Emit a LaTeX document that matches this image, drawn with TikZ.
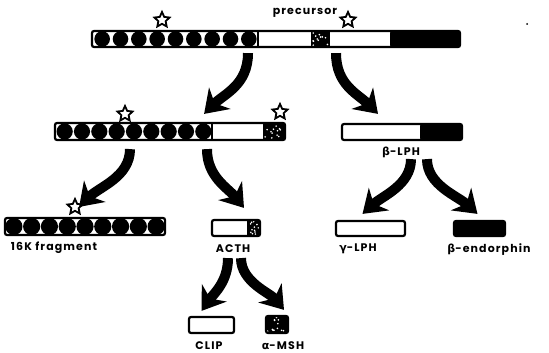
\documentclass[tikz,border=0pt]{standalone}
\usepackage{fontspec}
\newfontfamily\lblfont[LetterSpace=10]{Poppins}
\newfontfamily\grkfont[LetterSpace=10]{DejaVu Sans}
\usetikzlibrary{positioning, arrows.meta, shapes.geometric, calc}

% row of black beads inside a bar: x0, x1, y centre, radius, count
\newcommand\beads[5]{%
  \pgfmathsetmacro\pitch{(#2-#1)/#5}%
  \foreach \k in {1,...,#5}
    \fill ({#1+(\k-0.5)*\pitch},#3) circle[radius=#4];%
}
% black block with white flecks: x0, y0, x1, y1
\newcommand\specks[4]{%
  \fill (#1,#2) rectangle (#3,#4);
  \pgfmathsetseed{#1}%
  \foreach \k in {1,...,12}
    \fill[white] ({#1+1.5+rnd*(#3-#1-3)},{#2+1.5+rnd*(#4-#2-3)}) circle[radius=0.9];%
}
\newcommand\grk[1]{{\grkfont\bfseries #1}}

\begin{document}
\begin{tikzpicture}[x=1pt, y=-1pt,
      barbox/.style={draw, line width=2.2pt, rounded corners=2pt, inner sep=0pt},
      glyco/.style={star, star points=5, star point ratio=2.1, draw, line width=1.8pt, fill=white, minimum size=16pt, inner sep=0pt},
      lbl/.style={inner sep=0pt, font=\lblfont\bfseries\fontsize{11pt}{12pt}\selectfont},
      cut/.style={line width=10pt, -{Stealth[length=22pt, width=30pt, inset=7pt]}}]
  \useasboundingbox (0,0) rectangle (549,353);

  % precursor
  \beads{93}{258}{39}{7.8}{9}
  \draw[line width=1.2pt] (258,31) -- (258,47);
  \specks{311}{31}{330}{47}
  \fill[rounded corners=2pt] (390,31) rectangle (460,47);
  \node[barbox, minimum width=368pt, minimum height=16pt] (pre) at (276,39) {};
  \node[lbl] (prelbl) at (305,13) {precursor};
  \node[glyco] (s1) at (162,20) {};
  \node[glyco] (s2) at (348,20) {};
  \fill (527,24) circle[radius=1];

  % second row: N-terminal part with ACTH, and beta-LPH
  \beads{56}{212}{131.5}{8.1}{9}
  \draw[line width=1.2pt] (212,123) -- (212,140);
  \specks{263}{123}{285}{140}
  \node[barbox, minimum width=230pt, minimum height=17pt] (nacth) at (170,131.5) {};
  \node[glyco] (s3) at (125,114) {};
  \node[glyco] (s4) at (280,112) {};

  \fill[rounded corners=2pt] (420,124) rectangle (462,140);
  \node[barbox, minimum width=120pt, minimum height=16pt] (blph) at (402,132) {};
  \node[lbl] (blphlbl) at (401,152) {\grk{β}-LPH};

  % third row
  \fill[rounded corners=2pt] (5,218) rectangle (165,235);
  \begin{scope}
    \clip (5,218) rectangle (165,235);
    \fill[white] (6,219) rectangle (164,234);
    \beads{5}{165}{226.5}{8.6}{9}
  \end{scope}
  \node[barbox, minimum width=160pt, minimum height=17pt] (frag) at (85,226.5) {};
  \node[glyco] (s5) at (75,207) {};
  \node[lbl] (fraglbl) at (54,248) {16K fragment};

  \specks{247}{220}{260}{236}
  \node[barbox, minimum width=48pt, minimum height=16pt] (acth) at (236,228) {};
  \node[lbl] (acthlbl) at (233,249) {ACTH};

  \node[barbox, minimum width=69pt, minimum height=15pt] (glph) at (370.5,228.5) {};
  \node[lbl] (glphlbl) at (358,249) {\grk{γ}-LPH};

  \node[barbox, fill=black, minimum width=51pt, minimum height=15pt] (bend) at (479.5,228.5) {};
  \node[lbl] (bendlbl) at (489,250) {\grk{β}-endorphin};

  % fourth row
  \node[barbox, minimum width=45pt, minimum height=16pt] (clip) at (211.5,325) {};
  \node[lbl] (cliplbl) at (209,346) {CLIP};
  \specks{266}{316}{288}{333}
  \node[barbox, minimum width=22pt, minimum height=17pt] (amsh) at (277,324.5) {};
  \node[lbl] (amshlbl) at (283,346) {\grk{α}-MSH};

  % cleavage arrows
  \draw[cut] ($(pre.south)+(-28,5)$) .. controls +(0,32) and +(20,-20) .. ($(nacth.north east)+(-82,-8)$);
  \draw[cut] ($(pre.south)+(60,5)$) .. controls +(0,32) and +(-20,-20) .. ($(blph.north)+(-24,-9)$);
  \draw[cut] ($(nacth.south)+(-40,8)$) .. controls +(0,28) and +(20,-20) .. ($(frag.north east)+(-87,-10)$);
  \draw[cut] ($(nacth.south)+(37,8)$) .. controls +(0,28) and +(-16,-20) .. ($(acth.north)+(8,-11)$);
  \draw[cut] ($(blph.south)+(9,18)$) .. controls +(0,26) and +(20,-18) .. ($(glph.north)+(-8,-6)$);
  \draw[cut] ($(blph.south)+(25,18)$) .. controls +(0,26) and +(-20,-18) .. ($(bend.north)+(-2,-6)$);
  \draw[cut] ($(acth.south)+(-8,21)$) .. controls +(0,24) and +(12,-17) .. ($(clip.north)+(-10,-5)$);
  \draw[cut] ($(acth.south)+(5,21)$) .. controls +(0,24) and +(-14,-17) .. ($(amsh.north)+(7,-5)$);
\end{tikzpicture}
\end{document}
